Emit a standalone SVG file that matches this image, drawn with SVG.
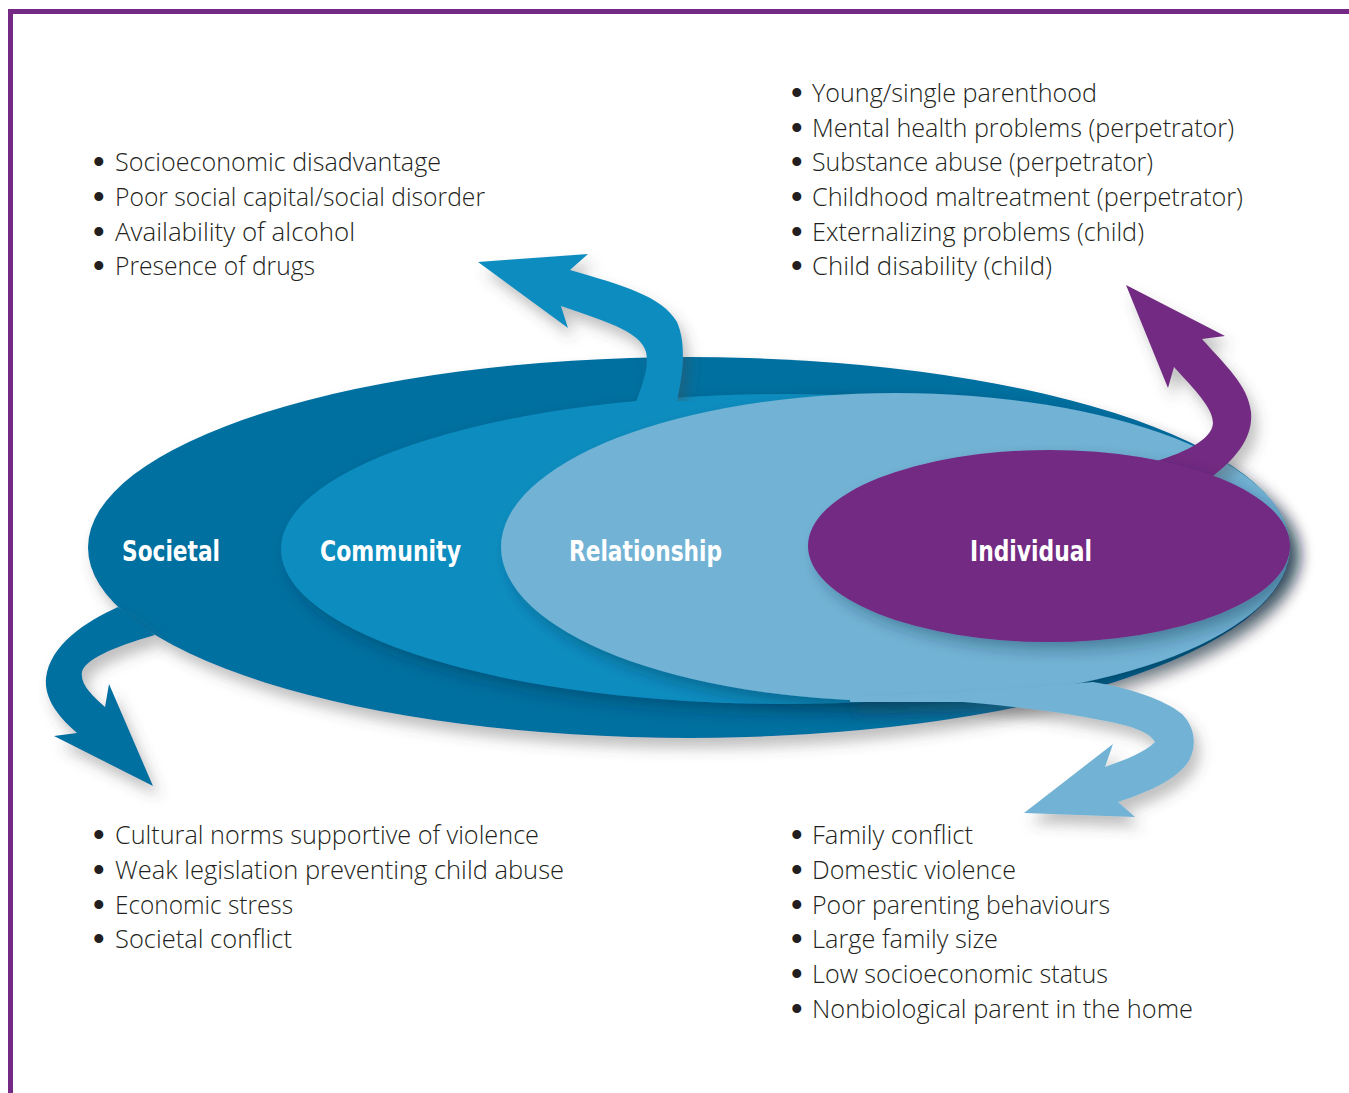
<svg xmlns="http://www.w3.org/2000/svg" width="1349" height="1093" viewBox="0 0 1349 1093">
<defs>
<style>
.lbl{font-family:"Liberation Sans Narrow","DejaVu Sans Condensed","Liberation Sans",sans-serif;font-weight:bold;font-size:29px;fill:#ffffff}
.it{font-family:"Open Sans","Noto Sans","Liberation Sans",sans-serif;font-weight:300;font-size:25px;fill:#231f20}
.bu{font-family:"Liberation Sans",sans-serif;font-size:33px;fill:#231f20}
.soc{fill:#036fa0}
.com{fill:#0f8dbf}
.rel{fill:#72b3d5}
.ind{fill:#732a82}
</style>
<filter id="gray" x="-20%" y="-20%" width="150%" height="160%">
<feGaussianBlur in="SourceAlpha" stdDeviation="7"/>
<feOffset dx="6" dy="10" result="b"/>
<feFlood flood-color="#4a4a4a" flood-opacity="0.35"/>
<feComposite in2="b" operator="in"/>
<feMerge><feMergeNode/><feMergeNode in="SourceGraphic"/></feMerge>
</filter>
<filter id="grayc" filterUnits="userSpaceOnUse" x="400" y="200" width="400" height="201">
<feGaussianBlur in="SourceAlpha" stdDeviation="7"/>
<feOffset dx="6" dy="10" result="b"/>
<feFlood flood-color="#4a4a4a" flood-opacity="0.35"/>
<feComposite in2="b" operator="in"/>
<feMerge><feMergeNode/><feMergeNode in="SourceGraphic"/></feMerge>
</filter>
<filter id="dark" x="-20%" y="-20%" width="150%" height="160%">
<feGaussianBlur in="SourceAlpha" stdDeviation="8"/>
<feOffset dx="8" dy="8" result="b"/>
<feFlood flood-color="#00243a" flood-opacity="0.35"/>
<feComposite in2="b" operator="in"/>
<feMerge><feMergeNode/><feMergeNode in="SourceGraphic"/></feMerge>
</filter>
</defs>
<rect width="1349" height="1093" fill="#ffffff"/>
<g id="frame" fill="#742a84">
<rect x="8" y="9" width="1341" height="5"/>
<rect x="8" y="9" width="5" height="1084"/>
</g>

<g id="node-societal">
<ellipse class="soc" cx="689" cy="547.5" rx="601" ry="190.5" filter="url(#gray)"/>
<text class="lbl" x="122" y="561" textLength="98" lengthAdjust="spacingAndGlyphs">Societal</text>
</g>
<g id="node-community">
<ellipse class="com" cx="785" cy="549" rx="504" ry="155" filter="url(#dark)"/>
<text class="lbl" x="320" y="561" textLength="141" lengthAdjust="spacingAndGlyphs">Community</text>
</g>
<g id="node-relationship">
<ellipse class="rel" cx="895.5" cy="547" rx="394.5" ry="154" filter="url(#dark)"/>
<text class="lbl" x="569" y="561" textLength="153" lengthAdjust="spacingAndGlyphs">Relationship</text>
</g>

<g id="connectors">
<path id="arrow-community" class="com" filter="url(#grayc)" d="M561,306 C600,320 640,330 646,352 C650,370 640,390 633,410 L675,410 C683,375 687,345 677,322 C662,296 622,285 570,270 L588,254 L478,262 L568,328 Z"/>
<path id="arrow-societal" class="soc" filter="url(#gray)" d="M118,607 C85,622 50,645 46,678 C44,700 60,718 77,733 L54,736 L153,786 L109,684 L105,707 C92,695 80,684 82,672 C85,660 110,648 155,635 Z"/>
<path id="arrow-relationship" class="rel" filter="url(#gray)" d="M850,696 C950,694 1030,688 1093,682 C1130,688 1165,700 1182,714 C1198,730 1196,752 1186,765 C1172,782 1145,793 1118,802 L1135,817 L1024,813 L1113,744 L1105,767 C1125,760 1145,752 1155,742 C1150,732 1130,725 1100,720 C1060,712 1013,706 963,702 L850,702 Z"/>
<path id="arrow-individual" class="ind" filter="url(#gray)" d="M1174,367 C1195,390 1213,408 1213,423 C1212,440 1185,452 1157,461 L1213,476 C1240,455 1253,435 1251,412 C1248,385 1225,365 1202,339 L1225,336 L1126,285 L1168,388 Z"/>
</g>

<g id="node-individual">
<ellipse class="ind" cx="1049" cy="546" rx="241" ry="96" filter="url(#dark)"/>
<text class="lbl" x="970" y="561" textLength="122" lengthAdjust="spacingAndGlyphs">Individual</text>
</g>

<g id="list-community">
<text class="bu" x="93" y="173">•</text><text class="it" x="115" y="171" textLength="326" lengthAdjust="spacingAndGlyphs">Socioeconomic disadvantage</text>
<text class="bu" x="93" y="207.5">•</text><text class="it" x="115" y="205.5" textLength="370" lengthAdjust="spacingAndGlyphs">Poor social capital/social disorder</text>
<text class="bu" x="93" y="242.5">•</text><text class="it" x="115" y="240.5" textLength="240" lengthAdjust="spacingAndGlyphs">Availability of alcohol</text>
<text class="bu" x="93" y="277">•</text><text class="it" x="115" y="275" textLength="200" lengthAdjust="spacingAndGlyphs">Presence of drugs</text>
</g>

<g id="list-individual">
<text class="bu" x="791" y="104">•</text><text class="it" x="812" y="102" textLength="285" lengthAdjust="spacingAndGlyphs">Young/single parenthood</text>
<text class="bu" x="791" y="138.5">•</text><text class="it" x="812" y="136.5" textLength="422" lengthAdjust="spacingAndGlyphs">Mental health problems (perpetrator)</text>
<text class="bu" x="791" y="173">•</text><text class="it" x="812" y="171" textLength="341" lengthAdjust="spacingAndGlyphs">Substance abuse (perpetrator)</text>
<text class="bu" x="791" y="207.5">•</text><text class="it" x="812" y="205.5" textLength="431" lengthAdjust="spacingAndGlyphs">Childhood maltreatment (perpetrator)</text>
<text class="bu" x="791" y="242.5">•</text><text class="it" x="812" y="240.5" textLength="332" lengthAdjust="spacingAndGlyphs">Externalizing problems (child)</text>
<text class="bu" x="791" y="277">•</text><text class="it" x="812" y="275" textLength="240" lengthAdjust="spacingAndGlyphs">Child disability (child)</text>
</g>

<g id="list-societal">
<text class="bu" x="93" y="846">•</text><text class="it" x="115" y="844" textLength="424" lengthAdjust="spacingAndGlyphs">Cultural norms supportive of violence</text>
<text class="bu" x="93" y="881">•</text><text class="it" x="115" y="879" textLength="449" lengthAdjust="spacingAndGlyphs">Weak legislation preventing child abuse</text>
<text class="bu" x="93" y="915.5">•</text><text class="it" x="115" y="913.5" textLength="178" lengthAdjust="spacingAndGlyphs">Economic stress</text>
<text class="bu" x="93" y="950">•</text><text class="it" x="115" y="948" textLength="177" lengthAdjust="spacingAndGlyphs">Societal conflict</text>
</g>

<g id="list-relationship">
<text class="bu" x="791" y="846">•</text><text class="it" x="812" y="844" textLength="161" lengthAdjust="spacingAndGlyphs">Family conflict</text>
<text class="bu" x="791" y="881">•</text><text class="it" x="812" y="879" textLength="204" lengthAdjust="spacingAndGlyphs">Domestic violence</text>
<text class="bu" x="791" y="915.5">•</text><text class="it" x="812" y="913.5" textLength="298" lengthAdjust="spacingAndGlyphs">Poor parenting behaviours</text>
<text class="bu" x="791" y="950">•</text><text class="it" x="812" y="948" textLength="186" lengthAdjust="spacingAndGlyphs">Large family size</text>
<text class="bu" x="791" y="985">•</text><text class="it" x="812" y="983" textLength="296" lengthAdjust="spacingAndGlyphs">Low socioeconomic status</text>
<text class="bu" x="791" y="1019.5">•</text><text class="it" x="812" y="1017.5" textLength="381" lengthAdjust="spacingAndGlyphs">Nonbiological parent in the home</text>
</g>
</svg>
